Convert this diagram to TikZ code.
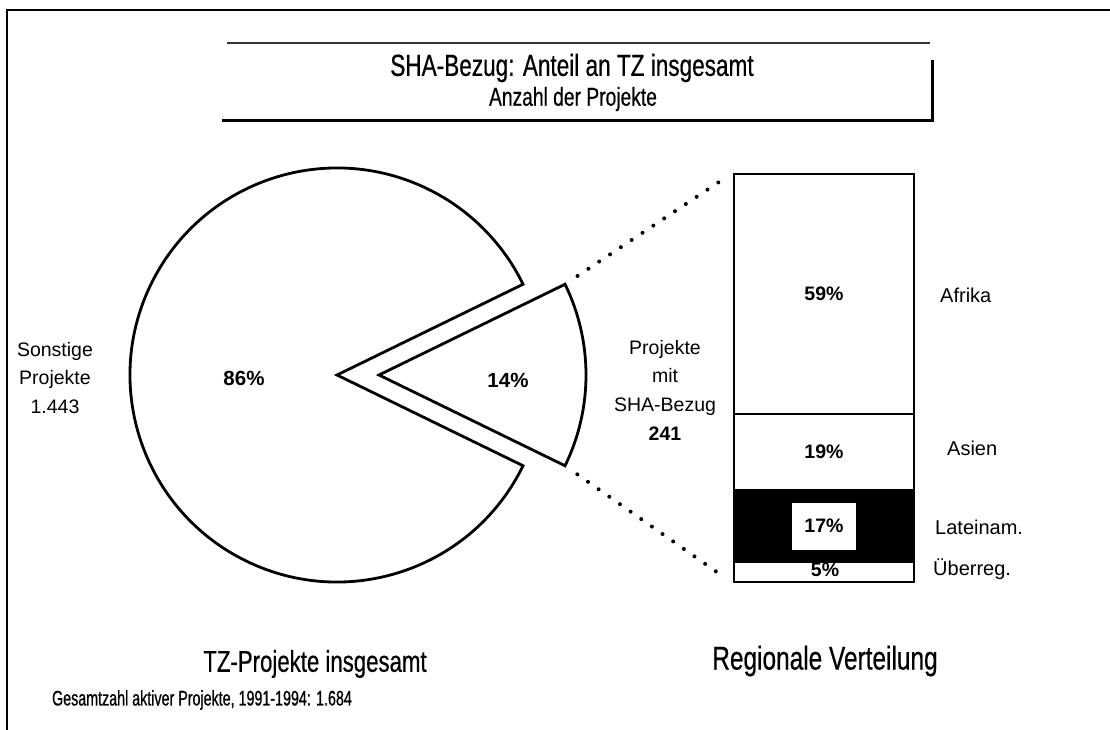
\documentclass[tikz,border=0pt]{standalone}
\usepackage{fontspec}
\setmainfont{Liberation Sans}
\newfontfamily\narrowfont[FakeStretch=0.74, FakeBold=0.5]{Liberation Sans}
\newfontfamily\condfont[FakeStretch=0.68, FakeBold=0.8]{Liberation Sans}
\usetikzlibrary{positioning, calc}

\begin{document}
\begin{tikzpicture}[x=1pt, y=-1pt,
            pie/.style={draw=black, line width=2.8pt, line join=miter, fill=white},
            seg/.style={draw=black, line width=2.4pt, minimum width=180pt, inner sep=0pt, font=\bfseries\fontsize{19.5}{22}\selectfont},
            pct/.style={font=\bfseries\fontsize{20.5}{24}\selectfont},
            lbl/.style={align=center, inner sep=0pt, font=\fontsize{19.5}{28.7}\selectfont},
            region/.style={anchor=west, inner sep=0pt, font=\fontsize{20}{24}\selectfont},
            caption/.style={inner sep=0pt, font=\narrowfont\fontsize{30}{34}\selectfont},
            dots/.style={line width=4pt, line cap=round, dash pattern=on 0pt off 13pt}
        ]
        \useasboundingbox (0,0) rectangle (1110,730);

        % Frame
        \draw[line width=2pt] (7,730) -- (7,10) -- (1110,10);

        % Title box
        \draw[line width=1.2pt, black!80] (227,43) -- (930,43);
        \draw[line width=3pt] (222,121) -- (932,121) -- (932,60);
        \node[inner sep=0pt, font=\narrowfont\fontsize{30.5}{36}\selectfont] (title) at (572,68) {SHA-Bezug: Anteil an TZ insgesamt};
        \node[inner sep=0pt, font=\narrowfont\fontsize{26}{30}\selectfont] (subtitle) at (573,99) {Anzahl der Projekte};

        % The pie
        \coordinate (pieTip) at (337,375);
        \coordinate (sliceTip) at (379,375);
        \draw[pie] (pieTip) -- ++(26:207) arc[start angle=26, end angle=334, radius=207] -- cycle;
        \draw[pie] (sliceTip) -- ++(-26:207) coordinate (sliceUp)
            arc[start angle=-26, end angle=26, radius=207] coordinate (sliceDown) -- cycle;
        \node[pct] (rest) at (244,378) {86\%};
        \node[pct] (share) at (508,380) {14\%};
        \node[lbl] (restLbl) at (55,378) {Sonstige\\Projekte\\1.443};
        \node[lbl] (shareLbl) at (665,390) {Projekte\\mit\\SHA-Bezug\\\textbf{241}};

        % The bar
        \node[seg, minimum height=240pt] (afr) at (824,294) {59\%};
        \node[seg, minimum height=76pt] (asi) at (824,452) {19\%};
        \node[seg, minimum height=72pt, fill=black] (lat) at (824,526) {};
        \node[fill=white, minimum width=64pt, minimum height=47pt, inner sep=0pt, font=\bfseries\fontsize{19.5}{22}\selectfont] (latVal) at (lat) {17\%};
        \node[seg, minimum height=20pt] (ueb) at (824,572) {};
        \node[inner sep=0pt, font=\bfseries\fontsize{19.5}{22}\selectfont] (uebVal) at (825,570) {5\%};

        % Regions
        \node[region] (afrLbl) at (940,295) {Afrika};
        \node[region] (asiLbl) at (947,448) {Asien};
        \node[region] (latLbl) at (935,527) {Lateinam.};
        \node[region] (uebLbl) at (933,569) {Überreg.};

        % Dotted links
        \draw[dots, shorten <=15pt, shorten >=11pt] (sliceUp) -- (afr.north west);
        \draw[dots, shorten <=15pt, shorten >=11pt] (sliceDown) -- (ueb.south west);

        % Captions
        \node[caption] (pieCap) at (315,664) {TZ-Projekte insgesamt};
        \node[caption, font=\narrowfont\fontsize{33}{36}\selectfont] (barCap) at (825,661) {Regionale Verteilung};
        \node[inner sep=0pt, font=\condfont\fontsize{21}{24}\selectfont] (total) at (202,700) {Gesamtzahl aktiver Projekte, 1991-1994: 1.684};

        \end{tikzpicture}
\end{document}
